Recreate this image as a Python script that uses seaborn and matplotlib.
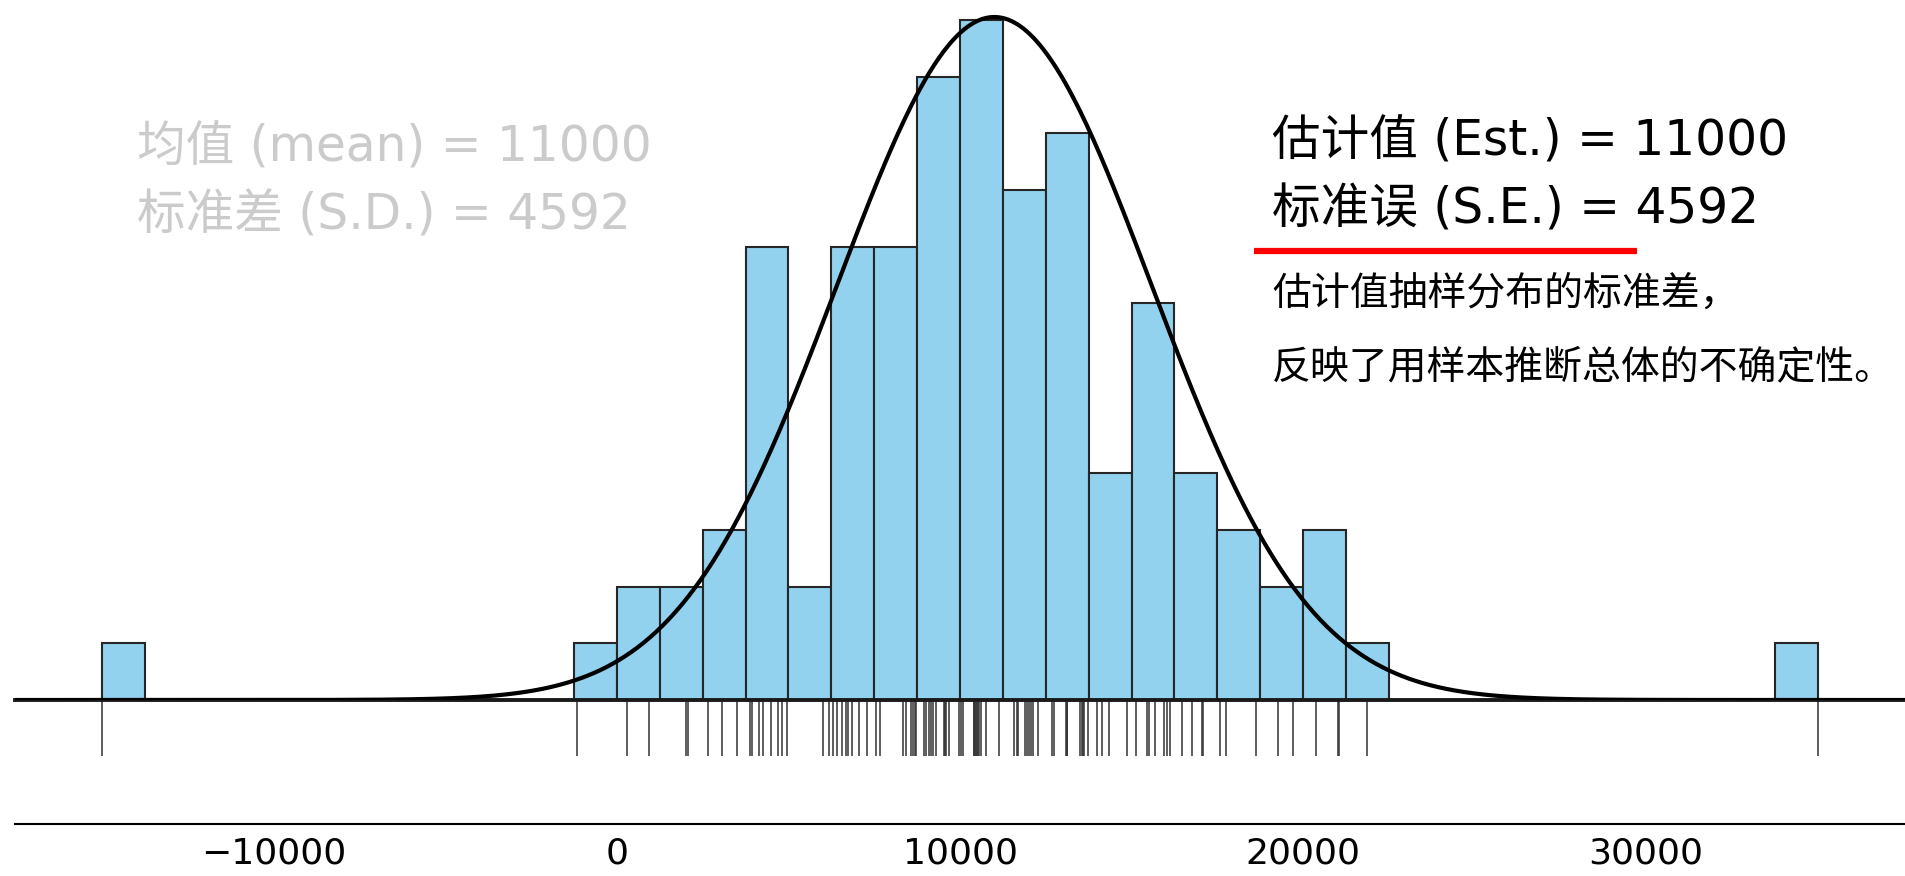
import numpy as np
import pandas as pd
import matplotlib
matplotlib.use("Agg")
import matplotlib.pyplot as plt
from matplotlib.lines import Line2D
import seaborn as sns

# Sample values (one per observation); the two extremes are outliers
values = [
    -15000,
    -1170,
    290, 940,
    2000, 2070,
    2650, 3070, 3500,
    3880, 3945, 4150, 4250, 4500, 4700, 4800, 4965,
    6010, 6180,
    6300, 6420, 6570, 6670, 6740, 6840, 7060, 7300,
    7560, 7660, 8330, 8430, 8570, 8620, 8680, 8730,
    8960, 9020, 9100, 9140, 9200, 9290, 9520, 9560, 9590, 9670, 9980,
    10030, 10074, 10400, 10420, 10430, 10460, 10490, 10520, 10550, 10600, 10760, 11130,
    11560, 11650, 11700, 11890, 11950, 12010, 12080, 12140, 12280,
    12690, 12750, 13090, 13110, 13125, 13500, 13555, 13580, 13615, 13735,
    13990, 14150, 14330, 14860,
    15120, 15460, 15520, 15690, 15950, 16030, 16110,
    16480, 16760, 17050, 17095,
    17580, 17750, 18620,
    19280, 19710,
    20370, 21030, 21040,
    21875,
    35000,
]

# Fitted normal curve parameters
est_mean = 11000
est_se = 4592
curve_area = 138700

bin_width = 1250
bin_range = (-15000, 35000)
x_limits = (-17550, 37550)
tick_values = [-10000, 0, 10000, 20000, 30000]

sns.set_style("white")
plt.rcParams["font.family"] = ["DejaVu Sans"]
mixed = ["DejaVu Sans", "Noto Sans CJK SC"]
cjk = ["Noto Sans CJK SC", "DejaVu Sans"]

W, H = 1905, 876
fig = plt.figure(figsize=(W / 100, H / 100), dpi=100)
left = 15 / W
ax = fig.add_axes([left, (H - 700) / H, 1 - left, 700 / H])
ax_x = fig.add_axes([left, (H - 824) / H, 1 - left, 0.02])

df = pd.DataFrame({"value": values})

sns.histplot(data=df, x="value", binwidth=bin_width, binrange=bin_range,
             color="#92D2EE", edgecolor="#262626", linewidth=1.5, alpha=1,
             ax=ax, zorder=2)

x_fit = np.linspace(x_limits[0], x_limits[1], 1200)
y_fit = curve_area / (est_se * np.sqrt(2 * np.pi)) * np.exp(-0.5 * ((x_fit - est_mean) / est_se) ** 2)
sns.lineplot(x=x_fit, y=y_fit, color="black", linewidth=3, ax=ax, zorder=4)

sns.rugplot(data=df, x="value", height=-0.08, clip_on=False, expand_margins=False,
            color="#333333", linewidth=1.1, ax=ax)

ax.set_xlim(*x_limits)
ax.set_ylim(0, 12.35)
ax.set_xticks([])
ax.set_yticks([])
ax.set_xlabel("")
ax.set_ylabel("")
for side in ["left", "right", "top"]:
    ax.spines[side].set_visible(False)
ax.spines["bottom"].set_color("#1a1a1a")
ax.spines["bottom"].set_linewidth(2.8)
ax.spines["bottom"].set_zorder(3)

ax_x.set_xlim(*x_limits)
ax_x.set_xticks(tick_values)
ax_x.set_xticklabels([f"{v:d}".replace("-", "\u2212") for v in tick_values])
ax_x.set_yticks([])
ax_x.patch.set_alpha(0)
for side in ["left", "right", "top"]:
    ax_x.spines[side].set_visible(False)
ax_x.spines["bottom"].set_color("black")
ax_x.spines["bottom"].set_linewidth(1.5)
ax_x.tick_params(axis="x", direction="out", length=6, width=1.2, colors="black",
                 labelsize=26, pad=3)

def fx(px):
    return px / W

def fy(py):
    return 1 - py / H

gray = "#cbcbcb"
fig.text(fx(137), fy(147), "均值 (mean) = 11000", color=gray, fontsize=35,
         family=mixed, va="center", ha="left")
fig.text(fx(137), fy(215), "标准差 (S.D.) = 4592", color=gray, fontsize=35,
         family=mixed, va="center", ha="left")

fig.text(fx(1272), fy(142), "估计值 (Est.) = 11000", color="black", fontsize=35,
         family=mixed, va="center", ha="left")
fig.text(fx(1272), fy(210), "标准误 (S.E.) = 4592", color="black", fontsize=35,
         family=mixed, va="center", ha="left")
fig.add_artist(Line2D([fx(1254), fx(1637)], [fy(251), fy(251)], color="#ff0000",
                      linewidth=4.5, solid_capstyle="butt"))
fig.text(fx(1272), fy(294), "估计值抽样分布的标准差，", color="black", fontsize=28,
         family=cjk, va="center", ha="left")
fig.text(fx(1272), fy(367), "反映了用样本推断总体的不确定性。", color="black", fontsize=28,
         family=cjk, va="center", ha="left")

fig.savefig("out.png", dpi=100, facecolor="white")
